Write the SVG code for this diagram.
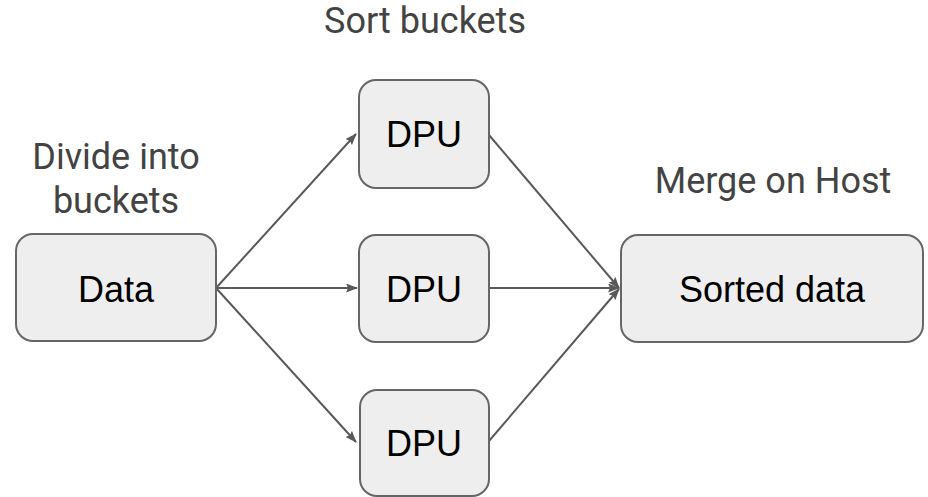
<svg xmlns="http://www.w3.org/2000/svg" width="928" height="497" viewBox="0 0 928 497">
<defs>
<style>
.box{fill:#eeeeee;stroke:#666666;stroke-width:2}
.nt{font-family:"Liberation Sans",Arial,sans-serif;font-size:36px;fill:#000;text-anchor:middle}
.lb{font-family:Roboto,"Liberation Sans",sans-serif;font-size:36px;fill:#434343;text-anchor:middle}
.ln{stroke:#595959;stroke-width:2;fill:none;marker-end:url(#ah)}
</style>
<marker id="ah" viewBox="0 0 12 9" refX="11" refY="4.5" markerWidth="6" markerHeight="4.5" orient="auto" markerUnits="strokeWidth">
<path d="M0,0 L12,4.5 L0,9 L2,4.5 z" fill="#595959"/>
</marker>
</defs>
<rect width="928" height="497" fill="#ffffff"/>
<g id="labels">
<text class="lb" x="425" y="33">Sort buckets</text>
<text class="lb" x="116" y="169">Divide into</text>
<text class="lb" x="116" y="213">buckets</text>
<text class="lb" x="773" y="193">Merge on Host</text>
</g>
<g id="connectors">
<line class="ln" x1="216" y1="288" x2="356" y2="134"/>
<line class="ln" x1="216" y1="288" x2="357" y2="288"/>
<line class="ln" x1="216" y1="288" x2="356" y2="442"/>
<line class="ln" x1="489" y1="135" x2="619" y2="288"/>
<line class="ln" x1="489" y1="288" x2="619" y2="288"/>
<line class="ln" x1="489" y1="441" x2="619" y2="289"/>
</g>
<g id="data"><rect class="box" x="16" y="234" width="200" height="107" rx="17"/><text class="nt" x="116" y="302">Data</text></g>
<g id="dpu1"><rect class="box" x="359" y="80" width="130" height="108" rx="17"/><text class="nt" x="424" y="147">DPU</text></g>
<g id="dpu2"><rect class="box" x="359" y="235" width="130" height="107" rx="17"/><text class="nt" x="424" y="302">DPU</text></g>
<g id="dpu3"><rect class="box" x="360" y="390" width="129" height="106" rx="17"/><text class="nt" x="424" y="456">DPU</text></g>
<g id="sorted"><rect class="box" x="621" y="235" width="302" height="107" rx="17"/><text class="nt" x="772" y="302">Sorted data</text></g>
</svg>
